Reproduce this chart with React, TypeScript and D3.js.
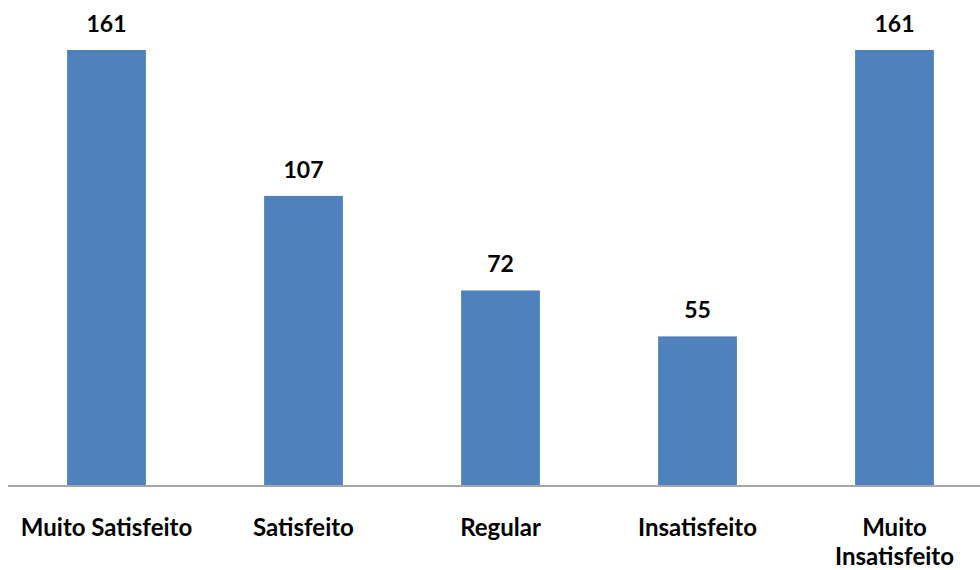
import React from "react";
import * as d3 from "d3";

const categories: string[][] = [
  ["Muito Satisfeito"],
  ["Satisfeito"],
  ["Regular"],
  ["Insatisfeito"],
  ["Muito", "Insatisfeito"],
];
const values: number[] = [161, 107, 72, 55, 161];

const W = 980;
const H = 570;
const baseY = 485;
const FONT = "Lato, 'Open Sans', sans-serif";

export default function App() {
  const keys = categories.map((_, i) => String(i));
  const x = d3.scaleBand<string>().domain(keys).range([8, 993]).paddingInner(0.6).paddingOuter(0.3);
  const y = d3.scaleLinear().domain([0, 161]).range([baseY, 50]);
  return (
    <svg width={W} height={H} style={{ position: "absolute", left: 0, top: 0, background: "#fff" }}>
      {values.map((v, i) => (
        <g key={i}>
          <rect x={x(keys[i])} y={y(v)} width={x.bandwidth()} height={baseY - y(v)} fill="#4f81bd" />
          <text
            x={(x(keys[i]) as number) + x.bandwidth() / 2}
            y={y(v) - 18}
            textAnchor="middle"
            fontFamily={FONT}
            fontWeight="bold"
            fontSize={23}
            fill="#000"
          >
            {v}
          </text>
        </g>
      ))}
      <line x1={8} x2={W} y1={baseY + 1} y2={baseY + 1} stroke="#a6a6a6" strokeWidth={2} />
      {categories.map((lines, i) => (
        <text
          key={i}
          x={(x(keys[i]) as number) + x.bandwidth() / 2}
          y={536}
          textAnchor="middle"
          fontFamily={FONT}
          fontWeight="bold"
          fontSize={24}
          fill="#000"
        >
          {lines.map((l, j) => (
            <tspan key={j} x={(x(keys[i]) as number) + x.bandwidth() / 2} dy={j === 0 ? 0 : 29}>
              {l}
            </tspan>
          ))}
        </text>
      ))}
    </svg>
  );
}
